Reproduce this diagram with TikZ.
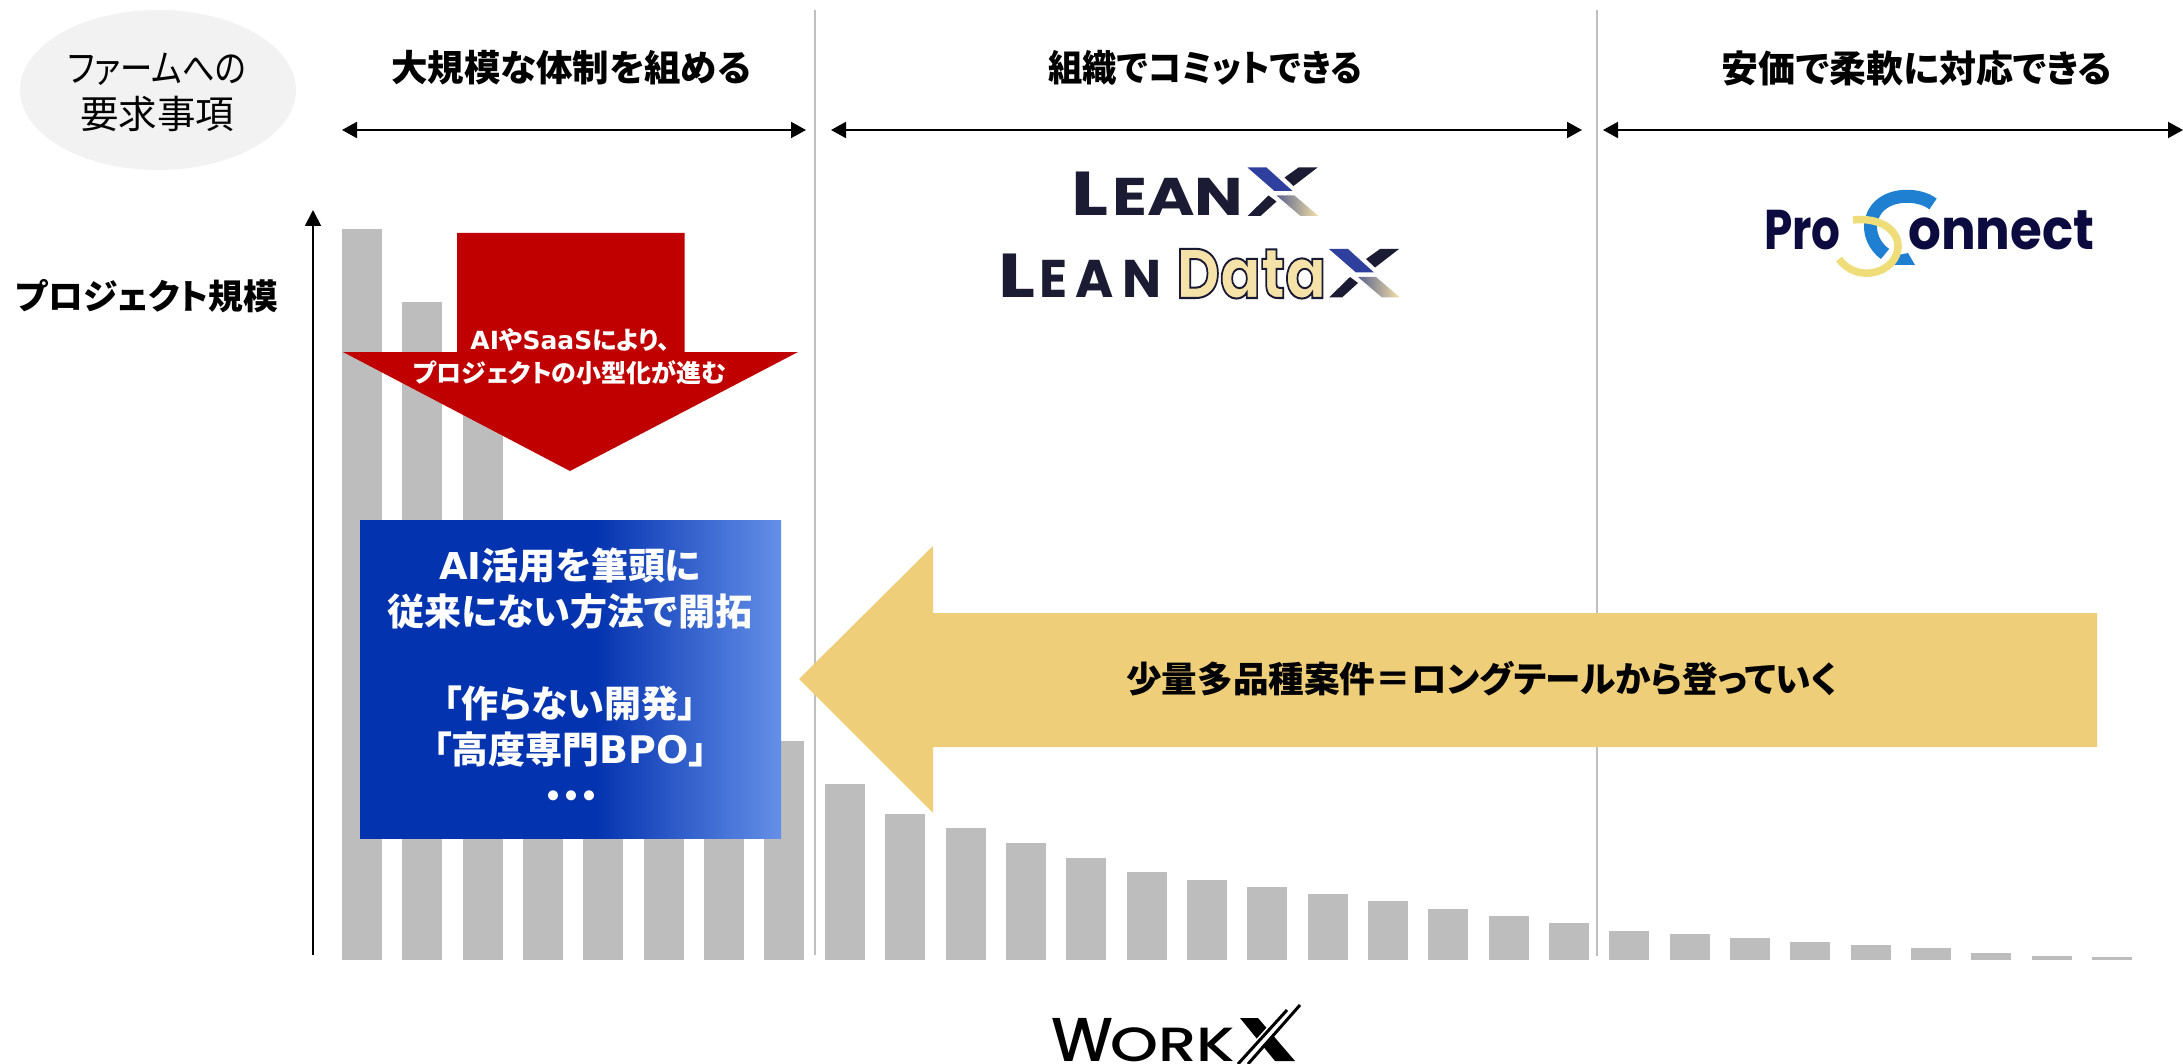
\documentclass[tikz,border=0pt]{standalone}
\usepackage{fontspec}
\usetikzlibrary{arrows.meta,shapes.geometric}
\newfontfamily\jp[RawFeature={+palt}]{Noto Sans CJK JP}
\newfontfamily\lat{DejaVu Sans}
\newfontfamily\logofont{Poppins}
\newfontfamily\logomed{Poppins Medium}
\definecolor{barg}{HTML}{BDBDBD}
\definecolor{linegr}{HTML}{BFBFBF}
\definecolor{redarrow}{HTML}{C00000}
\definecolor{goldarrow}{HTML}{EFCE7A}
\definecolor{ellg}{HTML}{F2F2F2}
\definecolor{boxa}{HTML}{0433B0}
\definecolor{boxb}{HTML}{6490E8}
\definecolor{logodark}{HTML}{1B1B33}
\definecolor{logoblue}{HTML}{2E3F9E}
\definecolor{logogold}{HTML}{F5E2A8}
\definecolor{pcnavy}{HTML}{0B0B40}
\definecolor{pcblue}{HTML}{1F7FD0}
\definecolor{pcyellow}{HTML}{EFDD7A}
\pgfdeclarehorizontalshading{bluebox}{100bp}{color(0bp)=(boxa); color(53bp)=(boxa); color(75bp)=(boxb); color(100bp)=(boxb)}
\pgfdeclarehorizontalshading{xgold}{100bp}{color(0bp)=(logoblue!45!gray); color(25bp)=(logoblue!45!gray); color(75bp)=(logogold); color(100bp)=(logogold)}
\tikzset{
  barbar/.style={fill=barg,draw=none},
  divider/.style={draw=linegr,line width=1.6pt},
  span/.style={draw=black,line width=2pt,{Triangle[length=15pt,width=16pt]}-{Triangle[length=15pt,width=16pt]},shorten >=0pt,shorten <=0pt},
  axisarrow/.style={draw=black,line width=1.8pt,-{Triangle[length=16pt,width=16pt]}},
  headtxt/.style={font=\jp\bfseries\fontsize{36.5}{44}\selectfont,text=black,inner sep=0pt,align=center},
  whitetxt/.style={font=\jp\bfseries\fontsize{37}{46.5}\selectfont,text=white,inner sep=0pt,align=center},
  lg/.style={inner sep=0pt,text=logodark,anchor=base west},
}
\newcommand{\xmark}[2]{%
  \begin{scope}[shift={(#1,#2)}]
    \fill[logoblue] (0,0)--(19,0)--(45,23.5)--(27,23.5)--cycle;
    \fill[logodark] (51,0)--(70,0)--(46,18.5)--(37,10)--cycle;
    \fill[logodark] (21,28)--(29,34)--(13,48.5)--(0,48.5)--cycle;
    \shade[shading=xgold] (29,28)--(47,28)--(71,48.5)--(53,48.5)--cycle;
  \end{scope}}
\begin{document}
\begin{tikzpicture}[x=1pt,y=-1pt]
\useasboundingbox (0,0) rectangle (2183,1064);
% bars
\foreach \i/\t in {0/229,1/302,2/380,3/540,4/600,5/650,6/700,7/741,8/784,9/814,10/828,11/843,12/858,13/872,14/880,15/887,16/894,17/901,18/909,19/916,20/923,21/931,22/934,23/938,24/942,25/945,26/948,27/953,28/956,29/957}
  \fill[barbar] ({342+\i*60.35},\t) rectangle ({382+\i*60.35},960);
% dividers
\coordinate (d1t) at (815,10); \coordinate (d1b) at (815,955);
\coordinate (d2t) at (1597,10); \coordinate (d2b) at (1597,956);
\draw[divider] (d1t) -- (d1b);
\draw[divider] (d2t) -- (d2b);
% ellipse
\node[ellipse,minimum width=276pt,minimum height=160pt,fill=ellg,inner sep=0pt] (req) at (158,90) {};
\node[font=\jp\fontsize{38.5}{46}\selectfont,align=center,inner sep=0pt,text=black] (reqt) at (157,92) {\scalebox{0.84}[1]{ファームへの}\\要求事項};
% headers
\node[headtxt] (h1) at (571,68) {大規模な体制を組める};
\node[headtxt] (h2) at (1205,68) {\scalebox{0.94}[1]{組織でコミットできる}};
\node[headtxt,font=\jp\bfseries\fontsize{37}{44}\selectfont] (h3) at (1917,68) {安価で柔軟に対応できる};
\coordinate (a1l) at (342,130); \coordinate (a1r) at (806,130);
\coordinate (a2l) at (831,130); \coordinate (a2r) at (1582,130);
\coordinate (a3l) at (1603,130); \coordinate (a3r) at (2183,130);
\draw[span] (a1l) -- (a1r);
\draw[span] (a2l) -- (a2r);
\draw[span] (a3l) -- (a3r);
% axis
\coordinate (axb) at (313,955); \coordinate (axt) at (313,210);
\draw[axisarrow] (axb) -- (axt);
\node[headtxt,font=\jp\bfseries\fontsize{34.8}{40}\selectfont] (ylab) at (147,296) {プロジェクト規模};
% red arrow
\fill[redarrow] (457,233)--(684.5,233)--(684.5,352)--(798,352)--(570,471)--(343,352)--(457,352)--cycle;
\node[whitetxt,font=\jp\bfseries\fontsize{25}{33}\selectfont] (redt) at (570,357) {{\lat\fontsize{25}{33}\selectfont AI}や{\lat\fontsize{25}{33}\selectfont SaaS}により、\\プロジェクトの小型化が進む};
% blue box
\path[shading=bluebox] (360,520) rectangle (781,838);
\node[whitetxt] (blt1) at (570,588.5) {{\lat\fontsize{37}{47}\selectfont AI}活用を筆頭に\\従来にない方法で開拓};
\node[whitetxt] (blt2) at (570,726.5) {「作らない開発」\\「高度専門{\lat\fontsize{38}{47}\selectfont BPO}」};
\node[whitetxt,font=\jp\bfseries\fontsize{36}{47}\selectfont] (blt3) at (571,800) {・・・};
% gold arrow
\fill[goldarrow] (2097,613)--(933,613)--(933,546)--(799,679)--(933,813)--(933,747)--(2097,747)--cycle;
\node[headtxt,font=\jp\bfseries\fontsize{35.6}{40}\selectfont] (goldt) at (1482,679) {少量多品種案件＝ロングテールから登っていく};
% LeanX logo
\node[lg,font=\logofont\bfseries\fontsize{62}{62}\selectfont] (l1) at (1071,215.5) {\scalebox{1.25}[1]{L}};
\node[lg,font=\logofont\bfseries\fontsize{53}{53}\selectfont] (l2) at (1112,215.5) {\scalebox{1.22}[1]{EAN}};
\xmark{1247.5}{167.5}
% LeanData logo
\node[lg,font=\logofont\bfseries\fontsize{62}{62}\selectfont] (l3) at (998,298) {\scalebox{1.25}[1]{L}};
\node[lg,font=\logofont\bfseries\fontsize{53}{53}\selectfont] (l4) at (1039,298) {\scalebox{0.98}[1]{E\,A\,N}};
\node[lg,font=\logofont\bfseries\fontsize{70}{70}\selectfont,text=logogold] (l5) at (1176,298) {\scalebox{0.86}[1]{\special{pdf:code 2 Tr 2 w 0.10 0.10 0.20 RG}Data\special{pdf:code 0 Tr}}};
\xmark{1329}{249}
% ProConnect logo
\node[lg,font=\logofont\bfseries\fontsize{56}{56}\selectfont,text=pcnavy] (p1) at (1764,250) {\scalebox{0.81}[1]{Pro}};
\node[lg,font=\logofont\bfseries\fontsize{56}{56}\selectfont,text=pcnavy] (p2) at (1908,250) {\scalebox{0.92}[1]{onnect}};
\draw[pcblue,line width=13pt] (1933,204) .. controls (1918,192) and (1880,192) .. (1872,218) .. controls (1867,232) and (1875,247) .. (1885,254);
\fill[pcblue] (1898,255)--(1908,253)--(1915,265)--(1892,265)--cycle;
\draw[pcyellow,line width=7.5pt] (1853,220) .. controls (1880,217) and (1898,230) .. (1898,246) .. controls (1898,272) and (1858,285) .. (1839,259);
% WorkX logo
\node[lg,text=black,font=\logomed\fontsize{62}{62}\selectfont] (w1) at (1051,1061) {W};
\node[lg,text=black,font=\logomed\fontsize{48}{48}\selectfont] (w2) at (1110,1061) {\scalebox{1.27}[1]{ORK}};
\fill[black] (1240,1018)--(1258,1018)--(1295,1061)--(1275,1061)--cycle;
\draw[white,line width=9pt] (1240,1064)--(1295,1003);
\draw[black,line width=3pt] (1238,1064)--(1287,1010);
\draw[black,line width=3pt] (1248,1064)--(1300,1005);
\end{tikzpicture}
\end{document}
